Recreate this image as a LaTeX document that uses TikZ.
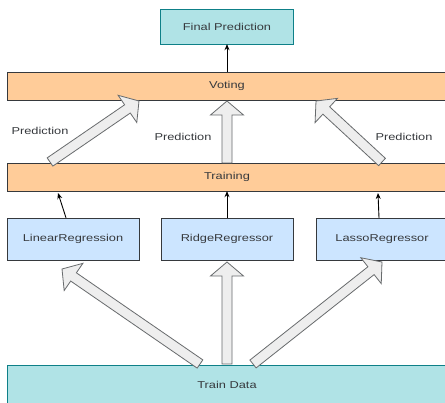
\documentclass[tikz,border=0pt]{standalone}
\usepackage{fontspec}
\newfontfamily\diafont[FakeStretch=1.28]{Liberation Sans}
\usetikzlibrary{arrows.meta,calc}
\definecolor{lagoon}{HTML}{B0E3E6}
\definecolor{lagoonline}{HTML}{0E8088}
\definecolor{peach}{HTML}{FFCC99}
\definecolor{sky}{HTML}{CCE5FF}
\definecolor{ink}{HTML}{36393D}
\definecolor{mist}{HTML}{EEEEEE}
\tikzset{
  >={Stealth[length=6pt,width=5pt]},
  box/.style={draw=ink,fill=#1,minimum height=28pt,minimum width=440pt,inner sep=0pt,
    font=\diafont\fontsize{10}{12}\selectfont,text=ink},
  box/.default=peach,
  flow/.style={->,draw=black,line width=0.9pt},
  fat/.style={draw=ink!75,fill=mist,line width=0.8pt,line join=miter},
  tag/.style={font=\diafont\fontsize{10}{12}\selectfont,text=ink},
}
% block arrow from #1 to #2
\newcommand\fatarrow[2]{%
  \coordinate (fa-h) at ($(#2)!14pt!(#1)$);
  \draw[fat] ($(#1)!5pt!90:(#2)$) -- ($(fa-h)!5pt!90:(#2)$) -- ($(fa-h)!16.5pt!90:(#2)$)
    -- (#2) -- ($(fa-h)!16.5pt!-90:(#2)$) -- ($(fa-h)!5pt!-90:(#2)$) -- ($(#1)!5pt!-90:(#2)$) -- cycle;}

\begin{document}
\begin{tikzpicture}[x=1pt,y=-1pt]
  \useasboundingbox (0,0) rectangle (445,403);
  \clip (0,0) rectangle (445,403);
  \fill[white] (0,0) rectangle (445,403);
  % boxes
  \node[box=lagoon,draw=lagoonline,minimum width=133pt,minimum height=35pt] (fp) at (227,26.5) {Final Prediction};
  \node[box] (vote) at (227,86) {Voting};
  \node[box] (train) at (227,177) {Training};
  \node[box=sky,minimum width=132pt,minimum height=42pt] (lin) at (73,239) {LinearRegression};
  \node[box=sky,minimum width=132pt,minimum height=42pt] (ridge) at (227,239) {RidgeRegressor};
  \node[box=sky,minimum width=132pt,minimum height=42pt] (lasso) at (382,239) {LassoRegressor};
  \node[box=lagoon,draw=lagoonline,minimum height=40pt] (data) at (227,385) {Train Data};
  % thin arrows
  \coordinate (l1) at (58,193);
  \coordinate (r1) at (378,193);
  \draw[flow] (vote) -- (fp);
  \draw[flow] ([xshift=-7pt]lin.north) -- (l1);
  \draw[flow] (ridge) -- (train);
  \draw[flow] ([xshift=-3pt]lasso.north) -- (r1);
  % block arrows
  \coordinate (tl) at (50,162);  \coordinate (vl) at (139,101);
  \coordinate (tm) at (227,163); \coordinate (vm) at (227,101);
  \coordinate (tr) at (382,162); \coordinate (vr) at (316,101);
  \coordinate (dl) at (200,364); \coordinate (ml) at (62,269);
  \coordinate (dm) at (227,364); \coordinate (mm) at (227,262);
  \coordinate (dr) at (253,364); \coordinate (mr) at (382,262);
  \fatarrow{tl}{vl}
  \fatarrow{tm}{vm}
  \fatarrow{tr}{vr}
  \fatarrow{dl}{ml}
  \fatarrow{dm}{mm}
  \fatarrow{dr}{mr}
  % labels
  \node[tag] (p1) at (40,131) {Prediction};
  \node[tag] (p2) at (183,137) {Prediction};
  \node[tag] (p3) at (404,137) {Prediction};
\end{tikzpicture}
\end{document}
